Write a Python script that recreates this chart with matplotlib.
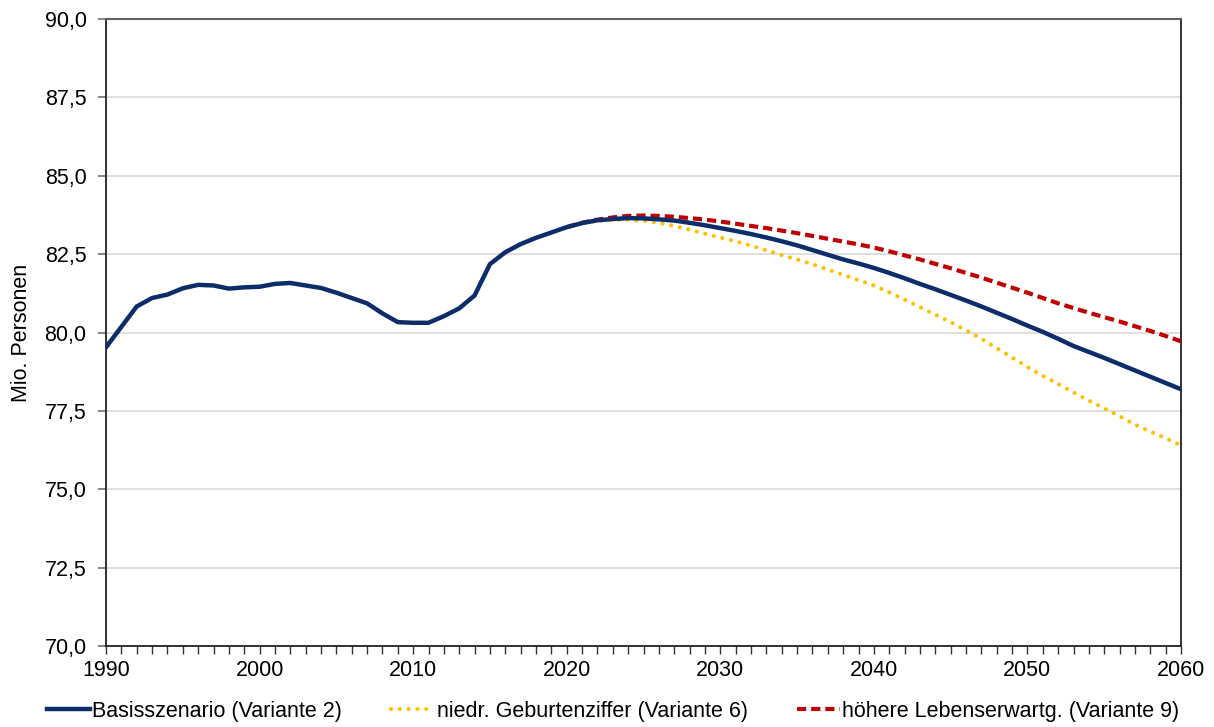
import matplotlib
matplotlib.use("Agg")
import matplotlib.pyplot as plt
from matplotlib.ticker import MultipleLocator, FuncFormatter

plt.rcParams['font.family'] = ['Liberation Sans', 'DejaVu Sans']

years_hist = list(range(1990, 2061))
basis = [79.53, 80.18, 80.83, 81.10, 81.21, 81.41, 81.52, 81.50, 81.40, 81.44,
         81.46, 81.55, 81.58, 81.50, 81.42, 81.27, 81.10, 80.93, 80.61, 80.33,
         80.31, 80.31, 80.52, 80.77, 81.18, 82.18, 82.56, 82.82, 83.02, 83.19,
         83.36, 83.49, 83.58, 83.62, 83.65, 83.64, 83.61, 83.57, 83.50, 83.42,
         83.33, 83.24, 83.14, 83.03, 82.91, 82.78, 82.63, 82.48, 82.33, 82.20,
         82.06, 81.90, 81.73, 81.55, 81.38, 81.20, 81.02, 80.83, 80.63, 80.43,
         80.22, 80.02, 79.80, 79.57, 79.38, 79.19, 78.99, 78.79, 78.59, 78.39,
         78.19]

years_var = list(range(2020, 2061))
variante6 = [83.36, 83.48, 83.56, 83.59, 83.59, 83.56, 83.50, 83.40, 83.28, 83.15,
             83.03, 82.91, 82.77, 82.62, 82.47, 82.33, 82.18, 82.01, 81.84, 81.67,
             81.50, 81.28, 81.05, 80.81, 80.57, 80.33, 80.07, 79.80, 79.50, 79.20,
             78.90, 78.62, 78.36, 78.09, 77.83, 77.58, 77.33, 77.06, 76.84, 76.63,
             76.40]
variante9 = [83.36, 83.50, 83.60, 83.67, 83.72, 83.73, 83.72, 83.69, 83.65, 83.60,
             83.54, 83.47, 83.40, 83.33, 83.25, 83.17, 83.08, 82.99, 82.90, 82.81,
             82.71, 82.59, 82.46, 82.33, 82.19, 82.05, 81.90, 81.75, 81.59, 81.43,
             81.27, 81.10, 80.93, 80.78, 80.63, 80.49, 80.35, 80.20, 80.05, 79.89,
             79.72]

labels = ["Basisszenario (Variante 2)",
          "niedr. Geburtenziffer (Variante 6)",
          "höhere Lebenserwartg. (Variante 9)"]

FS = 15.5

fig = plt.figure(figsize=(12.14, 7.27), dpi=100)
ax = fig.add_axes([106/1214, 1-646/727, (1181-106)/1214, (646-19)/727])

ax.plot(years_var, variante9, color='#C00000', lw=3, ls=(0, (2.2, 1.2)), label=labels[2], zorder=3)
ax.plot(years_var, variante6, color='#FFC000', lw=3.0, ls=(0, (0.01, 2.1)),
        dash_capstyle='round', label=labels[1], zorder=3)
ax.plot(years_hist, basis, color='#0C2C6A', lw=3.2, label=labels[0], zorder=4,
        solid_joinstyle='round')

ax.set_xlim(1990, 2060)
ax.set_ylim(70, 90)
ax.xaxis.set_major_locator(MultipleLocator(10))
ax.xaxis.set_minor_locator(MultipleLocator(1))
ax.yaxis.set_major_locator(MultipleLocator(2.5))
ax.yaxis.set_major_formatter(FuncFormatter(lambda v, p: f"{v:.1f}".replace('.', ',')))
ax.grid(axis='y', color='#D9D9D9', lw=1.2, zorder=0)
ax.set_axisbelow(True)

for s in ['left', 'bottom', 'right']:
    ax.spines[s].set_color('#222222')
    ax.spines[s].set_linewidth(1.3)
ax.spines['top'].set_color('#606060')
ax.spines['top'].set_linewidth(1.5)

ax.tick_params(axis='y', which='major', direction='out', length=6, width=1.2,
               color='#707070', labelsize=FS, pad=8)
ax.tick_params(axis='x', which='both', direction='out', length=6, width=1.0,
               color='#333333', labelsize=FS, pad=4)
ax.set_ylabel("Mio. Personen", fontsize=FS, labelpad=9)

handles, labs = ax.get_legend_handles_labels()
order = [2, 1, 0]
leg = fig.legend([handles[i] for i in order], [labs[i] for i in order],
                 loc='center', bbox_to_anchor=(0.505, 1-711/727), ncol=3, frameon=False,
                 fontsize=FS, handlelength=2.0, handletextpad=0.1, columnspacing=2.3)

fig.savefig("out.png", dpi=100)
